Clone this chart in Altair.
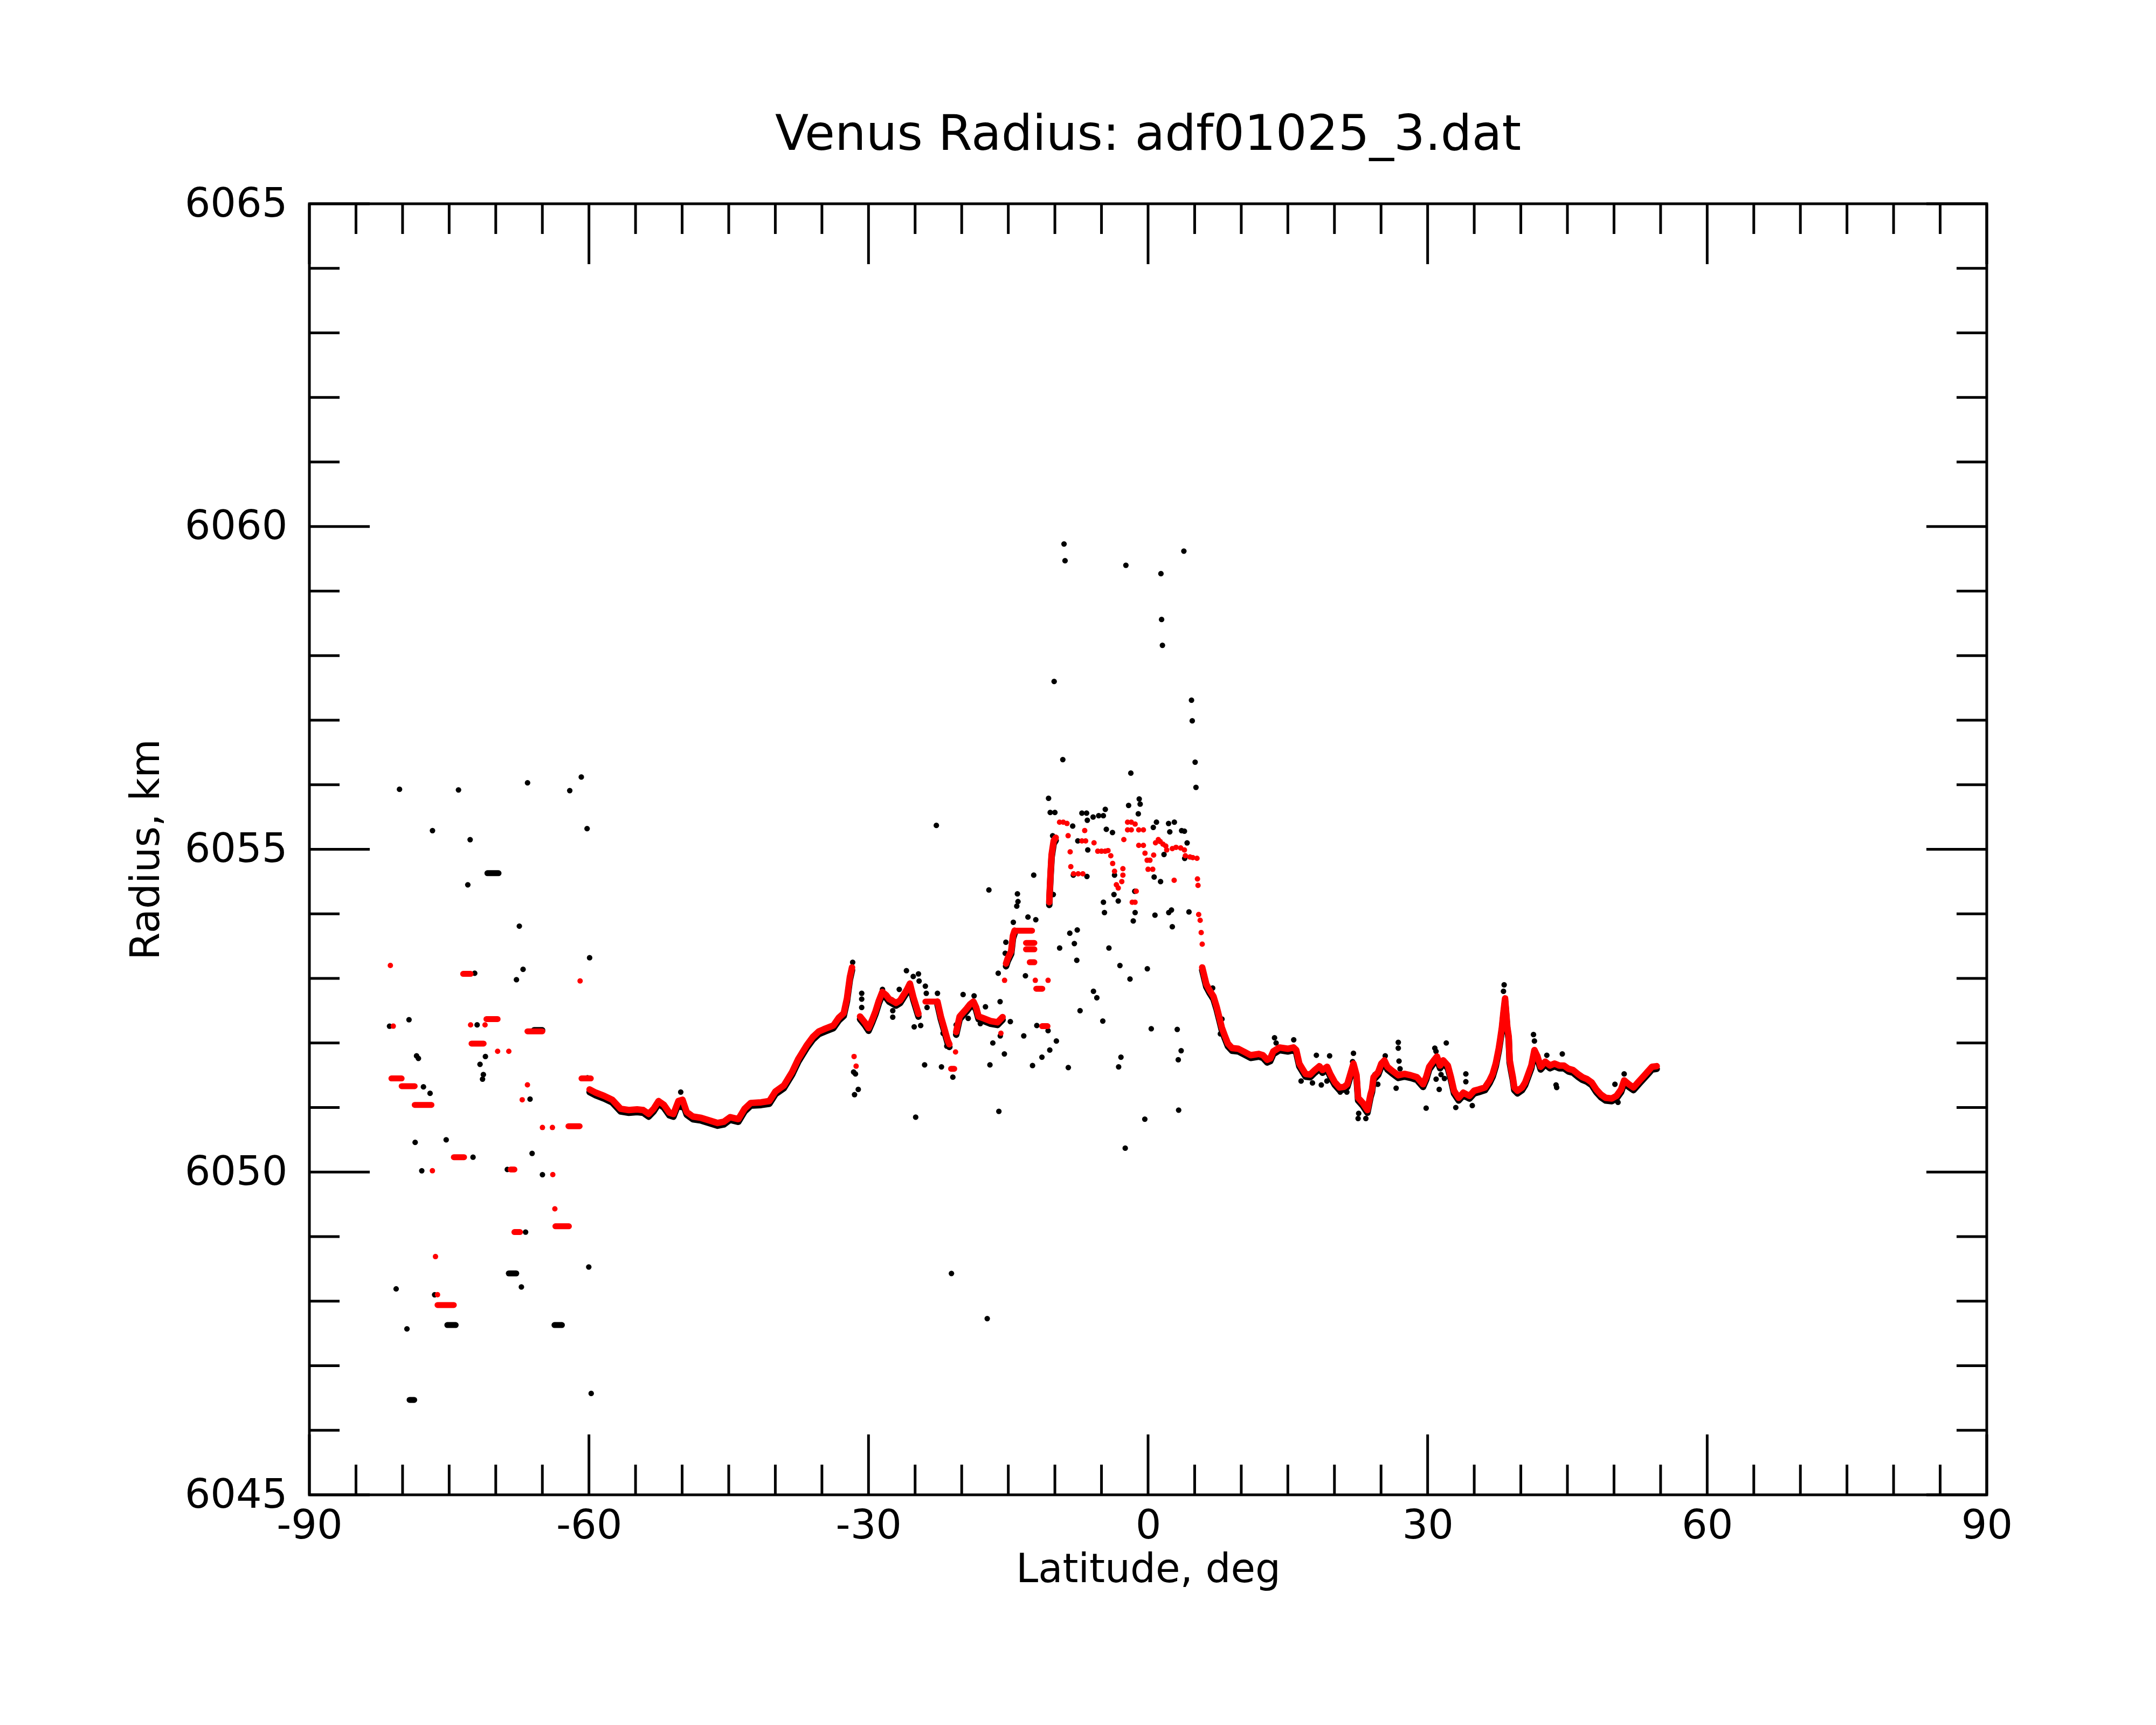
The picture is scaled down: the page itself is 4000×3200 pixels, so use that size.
import altair as alt
import pandas as pd

# ------------------------------------------------------------------ data
# Filtered (red) profile, continuous stretches
segA_lat = [-59.93, -59.27, -58.38, -57.5, -56.6, -55.72, -54.83, -54.17, -53.59, -53.06, -52.53, -51.95,
            -51.37, -50.93, -50.4, -49.96, -49.51, -48.85, -47.96, -47.07, -46.19, -45.52, -44.86, -43.97,
            -43.3, -42.64, -41.53, -40.64, -39.98, -39.09, -38.2, -37.54, -36.65, -35.99, -35.32, -34.66,
            -33.77, -33.19, -32.66, -32.31, -32.0, -31.77]
segA_r = [6051.28, 6051.23, 6051.18, 6051.12, 6050.98, 6050.96, 6050.97, 6050.96, 6050.9, 6050.98, 6051.1, 6051.04,
          6050.92, 6050.9, 6051.1, 6051.12, 6050.93, 6050.86, 6050.84, 6050.8, 6050.76, 6050.78, 6050.85, 6050.82,
          6050.98, 6051.07, 6051.08, 6051.1, 6051.25, 6051.34, 6051.55, 6051.75, 6051.96, 6052.09, 6052.18, 6052.22,
          6052.27, 6052.39, 6052.46, 6052.69, 6053.02, 6053.17]

segB_lat = [-30.91, -30.4, -29.99, -29.6, -29.25, -28.9, -28.52, -28.1, -27.78, -27.04, -26.6, -26.3, -25.9,
            -25.56, -25.19, -24.64]
segB_r = [6052.41, 6052.32, 6052.23, 6052.36, 6052.49, 6052.65, 6052.79, 6052.74, 6052.68, 6052.62, 6052.66,
          6052.73, 6052.82, 6052.92, 6052.71, 6052.45]

segB2_lat = [-22.6, -22.24, -21.88, -21.51, -21.32]
segB2_r = [6052.64, 6052.41, 6052.23, 6052.04, 6051.98]

segC_lat = [-20.59, -20.22, -19.85, -19.48, -19.1, -18.74, -18.45, -18.19, -17.63, -16.9, -16.16, -15.61]
segC_r = [6052.17, 6052.41, 6052.47, 6052.53, 6052.6, 6052.64, 6052.55, 6052.41, 6052.38, 6052.34, 6052.32, 6052.4]

segR1_lat = [-15.24, -15.06, -14.69, -14.5, -14.32]
segR1_r = [6053.23, 6053.31, 6053.42, 6053.66, 6053.74]

segR2_lat = [-10.6, -10.57, -10.46, -10.35, -10.13, -9.91]
segR2_r = [6054.18, 6054.3, 6054.64, 6054.92, 6055.13, 6055.18]

segD_lat = [5.81, 6.03, 6.25, 6.58, 7.02, 7.36, 7.69, 7.91, 8.24, 8.57, 9.02, 9.68, 10.35, 11.01, 11.89, 12.33,
            12.78, 13.11, 13.44, 14.11, 14.99, 15.61, 15.9, 16.23, 16.56, 16.9, 17.39, 17.89, 18.39, 18.72, 19.22,
            19.55, 20.05, 20.55, 21.04, 21.38, 21.71, 22.04, 22.37, 22.54, 23.04, 23.54, 23.87, 24.03, 24.2, 24.7,
            25.03, 25.36, 25.69, 26.19, 26.85, 27.52, 28.18, 28.85, 29.51, 29.84, 30.17, 30.67, 31.0, 31.34,
            31.67, 32.17, 32.5, 32.83, 33.33, 33.83, 34.49, 34.99, 35.49, 36.15, 36.65, 36.98, 37.31, 37.64,
            37.81, 37.97, 38.14, 38.31, 38.55, 38.7, 38.8, 38.97, 39.14, 39.3, 39.64, 40.13, 40.47, 40.8, 41.13,
            41.46, 41.79, 42.13, 42.62, 43.12, 43.62, 44.12, 44.62, 45.11, 45.61, 46.11, 46.61, 47.11, 47.6,
            48.1, 48.6, 49.1, 49.76, 50.26, 50.76, 51.09, 51.59, 52.09, 52.58, 53.08, 53.58, 54.08, 54.58]
segD_r = [6053.17, 6053.04, 6052.91, 6052.82, 6052.72, 6052.56, 6052.37, 6052.24, 6052.11, 6051.99, 6051.92,
          6051.91, 6051.86, 6051.81, 6051.83, 6051.81, 6051.74, 6051.76, 6051.87, 6051.93, 6051.91, 6051.93,
          6051.89, 6051.68, 6051.6, 6051.52, 6051.51, 6051.58, 6051.64, 6051.58, 6051.63, 6051.52, 6051.39,
          6051.31, 6051.32, 6051.36, 6051.52, 6051.68, 6051.5, 6051.15, 6051.07, 6050.96, 6051.2, 6051.28,
          6051.47, 6051.55, 6051.68, 6051.73, 6051.63, 6051.57, 6051.5, 6051.52, 6051.5, 6051.47, 6051.36,
          6051.47, 6051.63, 6051.73, 6051.79, 6051.65, 6051.73, 6051.65, 6051.47, 6051.26, 6051.15, 6051.23,
          6051.18, 6051.26, 6051.28, 6051.31, 6051.42, 6051.52, 6051.68, 6051.92, 6052.08, 6052.24, 6052.48,
          6052.69, 6052.25, 6052.1, 6051.74, 6051.6, 6051.47, 6051.31, 6051.26, 6051.31, 6051.39, 6051.52,
          6051.65, 6051.89, 6051.79, 6051.63, 6051.71, 6051.65, 6051.68, 6051.65, 6051.65, 6051.6, 6051.58,
          6051.52, 6051.47, 6051.44, 6051.39, 6051.28, 6051.2, 6051.15, 6051.14, 6051.18, 6051.28, 6051.42,
          6051.36, 6051.31, 6051.39, 6051.47, 6051.55, 6051.63, 6051.64]

# Isolated red points
red_pt_lat = [-81.31, -81.0, -76.8, -76.47, -76.25, -72.7, -71.15, -69.8, -68.6, -67.16, -66.6, -64.99, -63.92,
              -63.88, -63.66, -60.95, -31.55, -31.33, -20.66, -15.79, -15.4, -12.1, -10.73,
              -9.5, -9.1, -8.7, -8.58, -8.36, -8.29, -8.0, -7.5, -7.0, -7.1, -6.7, -6.8, -5.8, -5.4, -5.0, -4.6,
              -4.3, -4.0, -3.8, -3.6, -3.4, -3.2, -2.82, -2.7, -2.7, -2.6, -2.2, -1.8, -2.2, -1.8, -1.39, -1.0,
              -0.5, -1.0, -0.5, -0.33, -0.1, 0.2, 0.0, 0.5, -1.27, -1.7, -1.4, 0.6, 0.8, 1.1, 1.3, 1.6, 1.9, 2.0,
              2.6, 3.0, 3.5, 3.9, 4.0, 4.5, 4.8, 5.25, 2.8, 5.3, 5.36, 5.43, 5.59, 5.7, 5.81]
red_pt_r = [6053.2, 6052.26, 6050.02, 6048.69, 6048.1, 6052.28, 6052.28, 6051.87, 6051.87, 6051.12, 6051.35,
            6050.69, 6050.69, 6049.96, 6049.43, 6052.96, 6051.79, 6051.64, 6051.86, 6052.15, 6052.97, 6052.97,
            6052.97,
            6055.42, 6055.42, 6055.4, 6055.21, 6054.96, 6054.73, 6054.62, 6054.62, 6054.62, 6055.13, 6055.13,
            6055.29, 6055.1, 6054.97, 6054.97, 6054.97, 6054.98, 6054.9, 6054.78, 6054.66, 6054.45, 6054.4,
            6054.5, 6054.7, 6054.6, 6055.15, 6055.42, 6055.42, 6055.3, 6055.3, 6055.39, 6055.3, 6055.3, 6055.06,
            6055.06, 6054.94, 6054.83, 6054.83, 6054.69, 6054.69, 6054.35, 6054.18, 6054.18, 6054.91, 6055.1,
            6055.15, 6055.12, 6055.08, 6055.05, 6054.99, 6055.01, 6055.03, 6055.02, 6054.99, 6054.9, 6054.88,
            6054.87, 6054.86, 6054.52, 6054.54, 6054.44, 6053.99, 6053.9, 6053.71, 6053.53]

# Short runs of red points at one radius
red_bar_lat1 = [-81.2, -80.1, -78.7, -76.25, -73.5, -72.6, -71.0, -74.5, -68.4, -68.0, -66.6, -63.6, -62.2,
                -60.8, -23.9, -21.14, -14.32, -13.1, -13.1, -12.7, -12.0, -11.37]
red_bar_lat2 = [-80.1, -78.7, -76.9, -74.5, -72.7, -71.3, -69.8, -73.4, -68.0, -67.4, -65.0, -62.15, -61.0,
                -59.8, -22.6, -20.8, -12.45, -12.2, -12.2, -12.2, -11.35, -10.79]
red_bar_r = [6051.45, 6051.33, 6051.04, 6047.94, 6053.07, 6051.99, 6052.37, 6050.23, 6050.04, 6049.07, 6052.18,
             6049.16, 6050.71, 6051.45, 6052.64, 6051.6, 6053.74, 6053.55, 6053.45, 6053.25, 6052.84, 6052.26]

# Raw (black) points away from the red profile
blk_lat = [-80.33, -74.0, -66.59, -62.06, -60.82, -60.2, -76.79, -72.75, -73.0, -67.47, -67.07, -67.78, -72.26,
           -59.93, -81.4, -79.31, -72.0, -71.11, -71.69, -71.33, -71.42, -78.5, -78.3, -81.1, -77.76, -77.05,
           -78.65, -75.32, -77.94, -72.44, -66.32, -66.1, -68.76, -64.99, -60.16, -80.69, -76.56, -79.53, -67.25,
           -66.8, -60.02, -59.76,
           -31.7, -31.4, -31.5, -31.1, -31.6, -50.15, -50.1,
           -17.08, -17.45, -18.0, -19.3, -20.59, -20.95, -22.17, -23.98, -24.94, -24.4, -25.1, -25.93, -25.2,
           -24.64, -24.57, -23.9, -23.8, -22.6, -23.72, -19.85, -18.67, -27.4, -27.4, -30.73, -30.73, -30.73,
           -29.88, -28.5, -26.7, -27.5, -26.4, -22.0, -21.6, -21.1, -22.72, -17.26,
           -9.02, -8.91, -2.38, 1.38, 3.84, 1.45, 1.54, -10.08, 4.66, 4.74, -9.15, -1.85, 5.05, 5.14,
           -12.27, -14.02, -13.96, -14.09, -15.26, -15.33, -16.08, -15.88, -15.86, -14.46, -12.89, -12.05, -13.16,
           -9.49, -8.4, -7.6, -7.91, -7.65, -4.2, -3.02, -1.94, -0.08, -5.86, -5.5, -7.3, -4.86, -8.56, -2.91,
           -3.16, -0.35, -2.45, 3.28, 3.24, 3.55, 3.13, 0.34, 0.74, 4.39, 2.51, 2.22, 2.6, -1.59, -1.39, -1.43,
           -4.79, -4.68, -3.2, -13.34, -10.73, -10.55, -9.84, -11.39, -12.4, -15.42, -16.97, -16.66, -16.01,
           -11.94, -14.78,
           -10.68, -10.5, -10.0, -7.1, -6.6, -6.52, -5.9, -5.3, -4.8, -4.59, -2.09, -0.95, -0.85, -1.05, 0.9, 2.2,
           2.82, 3.6, 3.9, 0.56, 2.33, 4.19, -3.82, -4.48, -7.54, -10.24, -8.09, -6.47, -10.35, -10.13, -8.02,
           -6.56, -3.6, -3.66, 0.65, 1.34, 3.93, 1.71, -10.17,
           6.93, 7.93, 7.76, 13.57, 13.74, 15.63, 18.06, 19.48, 22.04, 22.54, 23.37, 22.6, 26.85, 26.85, 26.62,
           29.84, 30.77, 30.9, 32.0, 31.44, 34.1, 34.1, 38.14, 38.21, 41.36, 41.46, 42.79, 44.45, 43.78, 43.85,
           46.77, 50.1, 50.43, 51.09,
           16.42, 17.64, 18.59, 19.19, 21.95, 20.62, 21.33, 26.93, 27.04, 24.34, 24.65, 25.45, 31.24, 30.91,
           31.8, 33.02, 34.79]
blk_r = [6055.93, 6055.92, 6056.03, 6055.91, 6056.12, 6055.32, 6055.29, 6055.15, 6054.45, 6053.81, 6053.14,
         6052.98, 6053.08, 6053.32, 6052.26, 6052.36, 6052.28, 6051.79, 6051.67, 6051.51, 6051.44, 6051.8, 6051.76,
         6051.45, 6051.32, 6051.22, 6050.46, 6050.5, 6050.02, 6050.23, 6051.13, 6050.29, 6050.04, 6049.96,
         6051.46, 6048.19, 6048.1, 6047.57, 6048.22, 6049.07, 6048.53, 6046.57,
         6053.25, 6051.52, 6051.2, 6051.28, 6051.55, 6051.24, 6051.0,
         6054.37, 6052.56, 6052.3, 6052.38, 6052.28, 6051.47, 6051.63, 6051.66, 6050.85, 6052.27, 6052.25,
         6053.12, 6053.03, 6053.07, 6052.96, 6052.88, 6052.77, 6052.77, 6052.55, 6052.75, 6052.73, 6052.5,
         6052.4, 6052.77, 6052.68, 6052.55, 6052.23, 6052.83, 6052.83, 6052.67, 6052.67, 6052.15, 6051.95,
         6048.43, 6055.37, 6047.73,
         6059.73, 6059.47, 6059.4, 6059.27, 6059.62, 6058.56, 6058.16, 6057.6, 6057.31, 6056.99, 6056.39,
         6056.18, 6056.35, 6055.96,
         6054.6, 6054.31, 6054.19, 6054.12, 6053.56, 6053.39, 6053.08, 6052.64, 6052.11, 6053.87, 6053.95,
         6053.91, 6053.04, 6053.47, 6053.7, 6053.75, 6053.54, 6053.28, 6053.47, 6053.2, 6052.99, 6053.15,
         6052.8, 6052.7, 6052.5, 6052.34, 6051.62, 6051.78, 6051.63, 6050.82, 6050.37, 6050.96, 6051.74,
         6051.88, 6052.21, 6052.22, 6053.98, 6054.03, 6054.06, 6054.02, 6053.8, 6053.89, 6054.02, 6054.35,
         6054.18, 6054.02, 6054.2, 6052.11, 6052.19, 6051.89, 6052.03, 6051.78, 6051.65, 6051.83, 6051.66,
         6052.0, 6050.94, 6052.27, 6052.33,
         6055.79, 6055.57, 6055.57, 6055.56, 6055.56, 6055.45, 6055.5, 6055.52, 6055.52, 6055.62, 6055.68,
         6055.78, 6055.7, 6055.55, 6055.42, 6055.4, 6055.42, 6055.29, 6055.28, 6055.34, 6055.27, 6055.1,
         6055.26, 6055.31, 6055.13, 6055.21, 6055.36, 6054.99, 6054.94, 6055.14, 6054.6, 6054.58, 6054.6,
         6054.3, 6054.57, 6054.5, 6054.86, 6054.92, 6054.3,
         6052.85, 6052.37, 6052.14, 6052.08, 6052.0, 6052.05, 6051.81, 6051.8, 6051.84, 6050.83, 6050.83,
         6050.91, 6052.01, 6051.92, 6051.3, 6050.99, 6051.92, 6051.87, 6052.0, 6051.51, 6051.52, 6051.4,
         6052.8, 6052.9, 6052.13, 6052.03, 6051.81, 6051.83, 6051.35, 6051.31, 6051.42, 6051.36, 6051.08,
         6051.52,
         6051.41, 6051.38, 6051.35, 6051.41, 6051.71, 6051.24, 6051.24, 6051.72, 6051.6, 6051.51, 6051.36,
         6051.8, 6051.28, 6051.44, 6051.45, 6051.0, 6051.03]

# Short runs of black points at one radius
blk_bar_lat1 = [-70.9, -65.9, -79.25, -75.2, -68.6, -63.7]
blk_bar_lat2 = [-69.7, -65.0, -78.75, -74.3, -67.8, -62.9]
blk_bar_r = [6054.63, 6052.2, 6046.47, 6047.63, 6048.43, 6047.63]

# Axis ticks
x_major = [-90, -60, -30, 0, 30, 60, 90]
x_minor = [-85, -80, -75, -70, -65, -55, -50, -45, -40, -35, -25, -20, -15, -10, -5,
           5, 10, 15, 20, 25, 35, 40, 45, 50, 55, 65, 70, 75, 80, 85]
y_major = [6045, 6050, 6055, 6060, 6065]
y_minor = [6046, 6047, 6048, 6049, 6051, 6052, 6053, 6054, 6056, 6057, 6058, 6059,
           6061, 6062, 6063, 6064]

# ------------------------------------------------------------------ tables
segments = [("A", segA_lat, segA_r), ("B", segB_lat, segB_r), ("B2", segB2_lat, segB2_r),
            ("C", segC_lat, segC_r), ("R1", segR1_lat, segR1_r), ("R2", segR2_lat, segR2_r),
            ("D", segD_lat, segD_r)]
rows = []
for name, la, rr in segments:
    for i, (a, b) in enumerate(zip(la, rr)):
        rows.append({"seg": name, "i": i, "lat": a, "r": b})
curve = pd.DataFrame(rows)
red_pts = pd.DataFrame({"lat": red_pt_lat, "r": red_pt_r})
red_bars = pd.DataFrame({"lat": red_bar_lat1, "lat2": red_bar_lat2, "r": red_bar_r})
blk_pts = pd.DataFrame({"lat": blk_lat, "r": blk_r})
blk_bars = pd.DataFrame({"lat": blk_bar_lat1, "lat2": blk_bar_lat2, "r": blk_bar_r})

W, H = 3112, 2395
FONT = "DejaVu Sans"
MAJ, MIN = 112, 56

xscale = alt.Scale(domain=[-90, 90], nice=False, zero=False)
yscale = alt.Scale(domain=[6045, 6065], nice=False, zero=False)

common_axis = dict(ticks=False, tickSize=0, domain=False, grid=False, labelFontSize=75, labelFont=FONT,
                   labelColor="black", labelFlush=False, labelOverlap=False, labelLimit=0,
                   labelExpr="'' + datum.value", titleFontSize=74, titleFont=FONT,
                   titleFontWeight="normal", titleColor="black", titleBaseline="alphabetic")
xaxis = alt.Axis(values=x_major, title="Latitude, deg", labelPadding=21, titlePadding=66, **common_axis)
yaxis = alt.Axis(values=y_major, title="Radius, km", labelPadding=41, titlePadding=80, **common_axis)


def X(f="lat"):
    return alt.X(f + ":Q", scale=xscale, axis=xaxis)


def Y(f="r"):
    return alt.Y(f + ":Q", scale=yscale, axis=yaxis)


blk_pt_layer = alt.Chart(blk_pts).mark_circle(size=105, color="black", opacity=1).encode(x=X(), y=Y())
blk_bar_layer = alt.Chart(blk_bars).mark_rule(color="black", strokeWidth=11, strokeCap="round").encode(
    x=X(), x2="lat2:Q", y=Y())
blk_shadow = alt.Chart(curve).mark_line(color="black", strokeWidth=12, strokeCap="round", strokeJoin="round",
                                        yOffset=5).encode(x=X(), y=Y(), detail="seg:N", order="i:Q")
red_line = alt.Chart(curve).mark_line(color="#ff0000", strokeWidth=12, strokeCap="round",
                                      strokeJoin="round").encode(x=X(), y=Y(), detail="seg:N", order="i:Q")
red_curve_pts = alt.Chart(curve).mark_circle(size=100, color="#ff0000", opacity=1).encode(x=X(), y=Y())
red_pt_layer = alt.Chart(red_pts).mark_circle(size=100, color="#ff0000", opacity=1).encode(x=X(), y=Y())
red_bar_layer = alt.Chart(red_bars).mark_rule(color="#ff0000", strokeWidth=11, strokeCap="round").encode(
    x=X(), x2="lat2:Q", y=Y())


def xticks(vals, length):
    d = pd.DataFrame({"v": vals})
    bottom = alt.Chart(d).mark_rule(color="black", strokeWidth=5).encode(
        x=X("v"), y=alt.value(H), y2=alt.value(H - length))
    top = alt.Chart(d).mark_rule(color="black", strokeWidth=5).encode(
        x=X("v"), y=alt.value(0), y2=alt.value(length))
    return [bottom, top]


def yticks(vals, length):
    d = pd.DataFrame({"v": vals})
    left = alt.Chart(d).mark_rule(color="black", strokeWidth=5).encode(
        y=Y("v"), x=alt.value(0), x2=alt.value(length))
    right = alt.Chart(d).mark_rule(color="black", strokeWidth=5).encode(
        y=Y("v"), x=alt.value(W), x2=alt.value(W - length))
    return [left, right]


layers = [blk_pt_layer, blk_bar_layer, blk_shadow, red_line, red_curve_pts, red_pt_layer, red_bar_layer]
layers += xticks(x_major, MAJ) + xticks(x_minor, MIN) + yticks(y_major, MAJ) + yticks(y_minor, MIN)

chart = alt.layer(*layers).properties(
    width=W,
    height=H,
    title=alt.TitleParams("Venus Radius: adf01025_3.dat", fontSize=91, font=FONT, fontWeight="normal",
                          color="black", anchor="middle", offset=-28, baseline="alphabetic"),
    autosize=alt.AutoSizeParams(type="none"),
    padding={"left": 566, "top": 370, "right": 306, "bottom": 419},
).configure_view(stroke="black", strokeWidth=5, fill="white")

chart.save("out.html", embed_options={"renderer": "svg", "actions": False})
